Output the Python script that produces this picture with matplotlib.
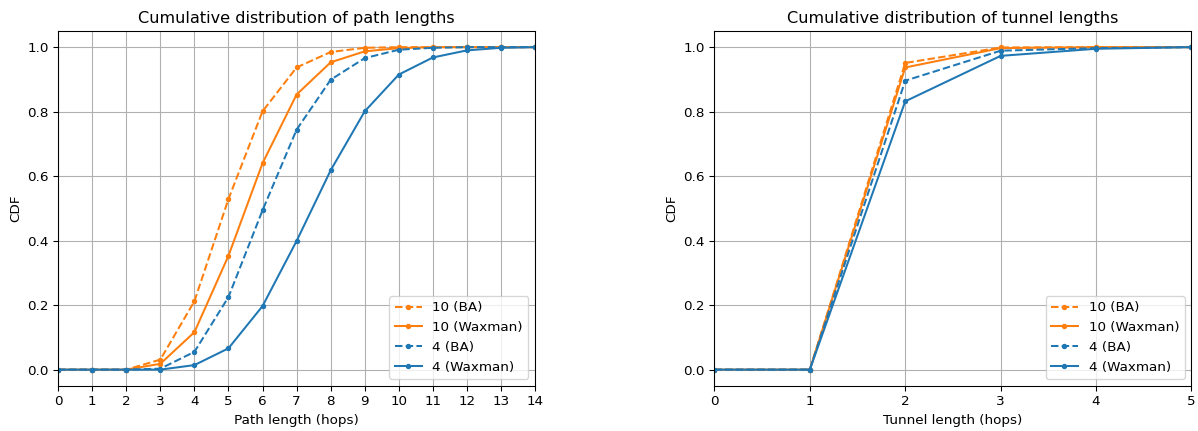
import matplotlib
matplotlib.use("Agg")
import matplotlib.pyplot as plt

PATH_HOPS = list(range(15))
PATH_10_BA = [0.0, 0.0, 0.0, 0.031, 0.212, 0.529, 0.801, 0.937, 0.985, 0.998, 1.0, 1.0, 1.0, 1.0, 1.0]
PATH_10_WAX = [0.0, 0.0, 0.0, 0.018, 0.116, 0.353, 0.640, 0.853, 0.953, 0.987, 0.997, 1.0, 1.0, 1.0, 1.0]
PATH_4_BA = [0.0, 0.0, 0.0, 0.003, 0.055, 0.225, 0.494, 0.744, 0.899, 0.966, 0.992, 0.998, 1.0, 1.0, 1.0]
PATH_4_WAX = [0.0, 0.0, 0.0, 0.0, 0.014, 0.066, 0.197, 0.399, 0.618, 0.801, 0.915, 0.968, 0.990, 0.998, 1.0]

TUNNEL_HOPS = list(range(6))
TUNNEL_10_BA = [0.0, 0.0, 0.951, 0.999, 1.0, 1.0]
TUNNEL_10_WAX = [0.0, 0.0, 0.937, 0.997, 1.0, 1.0]
TUNNEL_4_BA = [0.0, 0.0, 0.896, 0.989, 0.997, 1.0]
TUNNEL_4_WAX = [0.0, 0.0, 0.832, 0.973, 0.995, 1.0]

OUTPUT_PLOT_PATH = "out.png"
FIG_DPI = 97
FIGSIZE = (1198 / FIG_DPI, 431 / FIG_DPI)


def draw_cdf(ax, x, series, title, xlabel):
    for label, values, style, color in series:
        ax.plot(x, values, marker=".", linestyle=style, color=color, label=label)
    ax.set_xlim(x[0], x[-1])
    ax.set_xticks(x)
    ax.set_title(title)
    ax.set_xlabel(xlabel)
    ax.set_ylabel("CDF")
    ax.grid(True)
    ax.legend(loc="lower right")


def main():
    fig, (ax1, ax2) = plt.subplots(1, 2, figsize=FIGSIZE, dpi=FIG_DPI)
    fig.subplots_adjust(left=0.0485, right=0.9945, top=0.928, bottom=0.105, wspace=0.376)

    draw_cdf(ax1, PATH_HOPS, [
        ("10 (BA)", PATH_10_BA, "--", "C1"),
        ("10 (Waxman)", PATH_10_WAX, "-", "C1"),
        ("4 (BA)", PATH_4_BA, "--", "C0"),
        ("4 (Waxman)", PATH_4_WAX, "-", "C0"),
    ], "Cumulative distribution of path lengths", "Path length (hops)")

    draw_cdf(ax2, TUNNEL_HOPS, [
        ("10 (BA)", TUNNEL_10_BA, "--", "C1"),
        ("10 (Waxman)", TUNNEL_10_WAX, "-", "C1"),
        ("4 (BA)", TUNNEL_4_BA, "--", "C0"),
        ("4 (Waxman)", TUNNEL_4_WAX, "-", "C0"),
    ], "Cumulative distribution of tunnel lengths", "Tunnel length (hops)")

    fig.savefig(OUTPUT_PLOT_PATH, dpi=FIG_DPI)


if __name__ == "__main__":
    main()
